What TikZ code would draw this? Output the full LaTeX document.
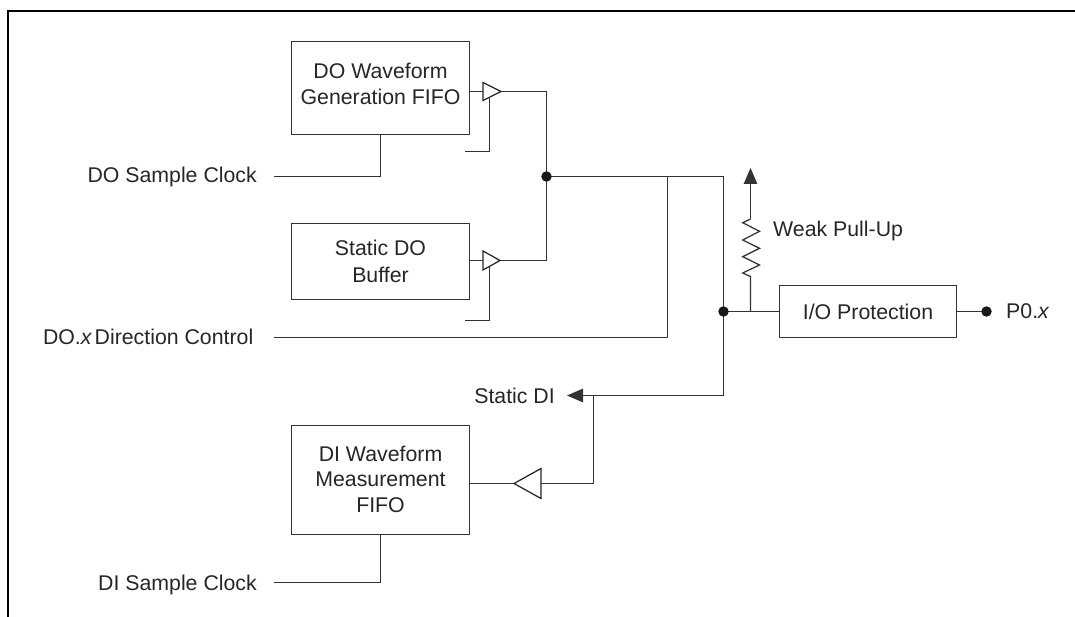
\documentclass[tikz,border=0pt]{standalone}
\usepackage{fontspec}
\setmainfont{Liberation Sans}
\usetikzlibrary{arrows.meta}
\newcommand{\liftup}[1]{\rule[-#1]{0pt}{0pt}}
\tikzset{
  x=1pt,y=-1pt,
  wire/.style={draw=black!80,line width=1.25pt},
  frame/.style={draw=black,line width=2.4pt},
  box/.style={wire,fill=white,align=center,font=\fontsize{21.3}{25.5}\selectfont,text=black!85,inner sep=0pt},
  lab/.style={font=\fontsize{21.3}{26}\selectfont,text=black!85,inner sep=0pt},
  dot/.style={circle,fill=black!90,inner sep=0pt,minimum size=10.5pt},
  tri/.style={draw=black!85,line width=1.25pt,fill=white,line join=miter},
  tipped/.style={-{Triangle[length=16pt,width=13.5pt]}},
}
\begin{document}
\begin{tikzpicture}
\useasboundingbox (0,0) rectangle (1075,617);
\draw[frame] (8,617) -- (8,11) -- (1075,11);
% boxes
\node[box,minimum width=178pt,minimum height=93pt] (dofifo) at (380.5,88) {DO Waveform\\Generation FIFO\liftup{8pt}};
\node[box,minimum width=178pt,minimum height=76pt] (dobuf) at (380.5,261.5) {Static DO\\[1pt]Buffer};
\node[box,minimum width=178pt,minimum height=109pt] (difif) at (380.5,480) {DI Waveform\\Measurement\\FIFO\liftup{2pt}};
\node[box,minimum width=177pt,minimum height=52pt] (io) at (868,311.5) {I/O Protection};
% labels
\node[lab,anchor=base east] (doclk) at (257,183) {DO Sample Clock};
\node[lab,anchor=base east] (dodir) at (253.5,344) {DO.\textit{x}\hspace{2.5pt}Direction Control};
\node[lab,anchor=base east] (diclk) at (257,590) {DI Sample Clock};
\node[lab,anchor=base east] (sdi) at (555,403) {Static DI};
\node[lab,anchor=base west] (wpu) at (773,237) {Weak Pull-Up};
\node[lab,anchor=base west] (p0) at (1006,318) {P0.\textit{x}};
% anchors
\coordinate (doclkS) at (274,176.5);
\coordinate (dodirS) at (274,337.5);
\coordinate (diclkS) at (274,582.5);
\coordinate (jTop) at (546.5,176.5);
\coordinate (jBus) at (723.5,311.5);
\coordinate (jCtl) at (667.5,176.5);
\coordinate (cTR) at (723.5,176.5);
\coordinate (cDI) at (723.5,395.5);
\coordinate (sdiTip) at (567,395.5);
\coordinate (jDI) at (593.5,395.5);
\coordinate (en1) at (465,151.5);
\coordinate (en2) at (465,320.5);
\coordinate (en1t) at (489.5,97);
\coordinate (en2t) at (489.5,266);
\coordinate (pu) at (750.5,311.5);
\coordinate (puTip) at (750.5,168);
\coordinate (r0) at (750.5,219);
\coordinate (r1) at (750.5,276.5);
\coordinate (p0dot) at (986.5,311.5);
% wires
\draw[wire] (doclkS) -| (dofifo.south);
\draw[wire] (dodirS) -| (jCtl);
\draw[wire] (diclkS) -| (difif.south);
\draw[wire] (469,91.5) -- (483,91.5);
\draw[wire] (469,260.5) -- (483,260.5);
\draw[wire] (501,91.5) -| (jTop);
\draw[wire] (500,260.5) -| (jTop);
\draw[wire] (jTop) -- (cTR) -- (cDI) -- (jDI);
\draw[wire] (jBus) -- (io.west);
\draw[wire] (jDI) |- (541,483.5);
\draw[wire] (514,483.5) -- (469.5,483.5);
\draw[wire,tipped] (jDI) -- (sdiTip);
\draw[wire] (io.east) -- (p0dot);
\draw[wire,line join=miter] (pu) -- (r1) -- (742.7,273) -- (759.5,265) -- (742.7,256.7) -- (759.5,248.3) -- (742.7,240) -- (759.5,231.3) -- (742.7,222.7) -- (r0);
\draw[wire,tipped] (r0) -- (puTip);
% amplifiers
\draw[tri] (483,82.5) -- (501,91.5) -- (483,100.5) -- cycle;
\draw[tri] (483,251) -- (500,260.5) -- (483,270) -- cycle;
\draw[tri] (541,468.5) -- (514,483.5) -- (541,498.5) -- cycle;
\draw[wire] (en1) -| (en1t);
\draw[wire] (en2) -| (en2t);
% dots
\node[dot] (d1) at (jTop) {};
\node[dot] (d2) at (jBus) {};
\node[dot] (d3) at (p0dot) {};
\end{tikzpicture}
\end{document}
